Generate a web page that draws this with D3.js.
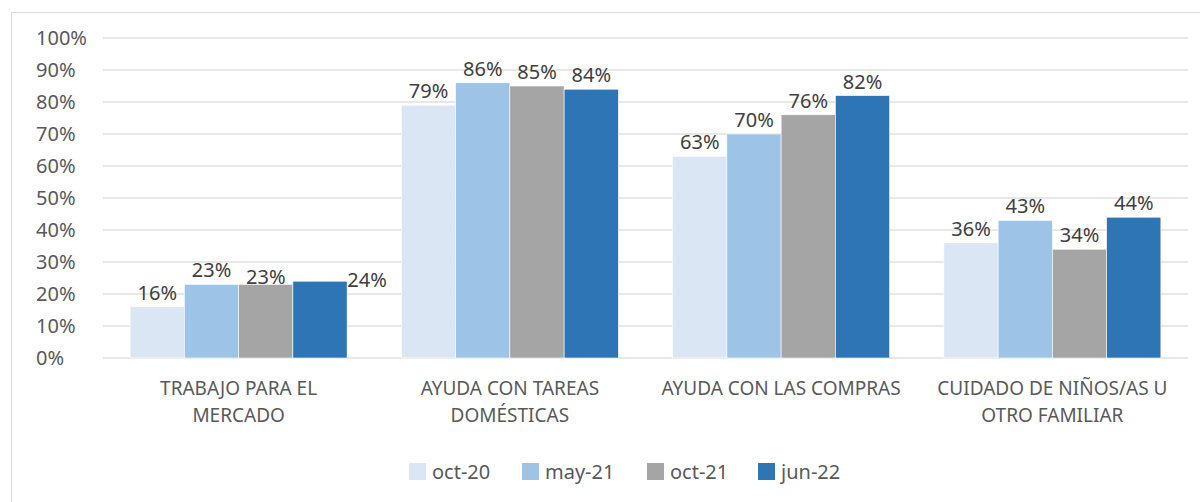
<!DOCTYPE html>
<html>
<head>
<meta charset="utf-8">
<script src="https://cdn.jsdelivr.net/npm/d3@7"></script>
<style>
    html, body { margin: 0; padding: 0; background: #fff; }
    svg { display: block; font-family: "Noto Sans", "Liberation Sans", sans-serif; }
</style>
</head>
<body>
<div id="chart"></div>
<script>
// Categories (two text lines each) and series
const categories = [
    ['TRABAJO PARA EL', 'MERCADO'],
    ['AYUDA CON TAREAS', 'DOMÉSTICAS'],
    ['AYUDA CON LAS COMPRAS'],
    ['CUIDADO DE NIÑOS/AS U', 'OTRO FAMILIAR']
];
const seriesNames = ['oct-20', 'may-21', 'oct-21', 'jun-22'];
const oct20 = [16, 79, 63, 36];
const may21 = [23, 86, 70, 43];
const oct21 = [23, 85, 76, 34];
const jun22 = [24, 84, 82, 44];
const yTicks = [0, 10, 20, 30, 40, 50, 60, 70, 80, 90, 100];

const seriesValues = [oct20, may21, oct21, jun22];
const colors = ['#dae6f4', '#9dc3e6', '#a5a5a5', '#2e75b6'];

// Excel moved a couple of labels to avoid collisions
const labelNudge = { '0-2': { dx: 0, dy: 7 }, '0-3': { dx: 47, dy: 13 } };

const width = 1200, height = 502;
const margin = { top: 38, right: 12, bottom: 144, left: 103 };

const svg = d3.select('#chart').append('svg')
    .attr('width', width)
    .attr('height', height);

// Chart frame
svg.append('rect')
    .attr('x', 11.5).attr('y', 12.5)
    .attr('width', 1200).attr('height', 500)
    .attr('fill', 'none')
    .attr('stroke', '#d9d9d9')
    .attr('stroke-width', 1);

const x0 = d3.scaleBand()
    .domain(d3.range(categories.length))
    .range([margin.left, width - margin.right])
    .paddingInner(0.2)
    .paddingOuter(0.1);

const x1 = d3.scaleBand()
    .domain(d3.range(seriesNames.length))
    .range([0, x0.bandwidth()]);

const y = d3.scaleLinear()
    .domain([0, 100])
    .range([height - margin.bottom, margin.top]);

const plotRight = x0.range()[1];

// Grid lines
svg.append('g')
    .selectAll('line')
    .data(yTicks)
    .join('line')
    .attr('x1', margin.left)
    .attr('x2', plotRight)
    .attr('y1', d => y(d))
    .attr('y2', d => y(d))
    .attr('stroke', '#e0e0e0')
    .attr('stroke-width', 1.5);

// Y labels (left aligned like the original)
svg.append('g')
    .selectAll('text')
    .data(yTicks)
    .join('text')
    .attr('x', 36)
    .attr('y', d => y(d))
    .attr('dy', '0.35em')
    .attr('fill', '#595959')
    .attr('font-size', 20)
    .text(d => d + '%');

// Bars
const rows = [];
categories.forEach((c, ci) => {
    seriesValues.forEach((vals, si) => {
        rows.push({ ci, si, value: vals[ci] });
    });
});

const bars = svg.append('g');
bars.selectAll('rect')
    .data(rows)
    .join('rect')
    .attr('x', d => x0(d.ci) + x1(d.si))
    .attr('y', d => y(d.value))
    .attr('width', x1.bandwidth())
    .attr('height', d => y(0) - y(d.value))
    .attr('fill', d => colors[d.si])
    .attr('stroke', '#fff')
    .attr('stroke-width', 0.6);

// Value labels
svg.append('g')
    .selectAll('text')
    .data(rows)
    .join('text')
    .attr('x', d => x0(d.ci) + x1(d.si) + x1.bandwidth() / 2 + ((labelNudge[d.ci + '-' + d.si] || {}).dx || 0))
    .attr('y', d => y(d.value) - 7 + ((labelNudge[d.ci + '-' + d.si] || {}).dy || 0))
    .attr('text-anchor', 'middle')
    .attr('fill', '#404040')
    .attr('font-size', 20)
    .text(d => d.value + '%');

// Category labels
const catG = svg.append('g');
categories.forEach((lines, ci) => {
    lines.forEach((line, li) => {
        catG.append('text')
            .attr('x', x0(ci) + x0.bandwidth() / 2)
            .attr('y', 395 + li * 27)
            .attr('text-anchor', 'middle')
            .attr('fill', '#595959')
            .attr('font-size', 19)
            .text(line);
    });
});

// Legend
const legendX = [409, 522, 647, 758];
const legend = svg.append('g');
seriesNames.forEach((name, i) => {
    legend.append('rect')
        .attr('x', legendX[i]).attr('y', 463)
        .attr('width', 17).attr('height', 17)
        .attr('fill', colors[i]);
    legend.append('text')
        .attr('x', legendX[i] + 23)
        .attr('y', 479)
        .attr('fill', '#595959')
        .attr('font-size', 20)
        .text(name);
});
</script>
</body>
</html>
